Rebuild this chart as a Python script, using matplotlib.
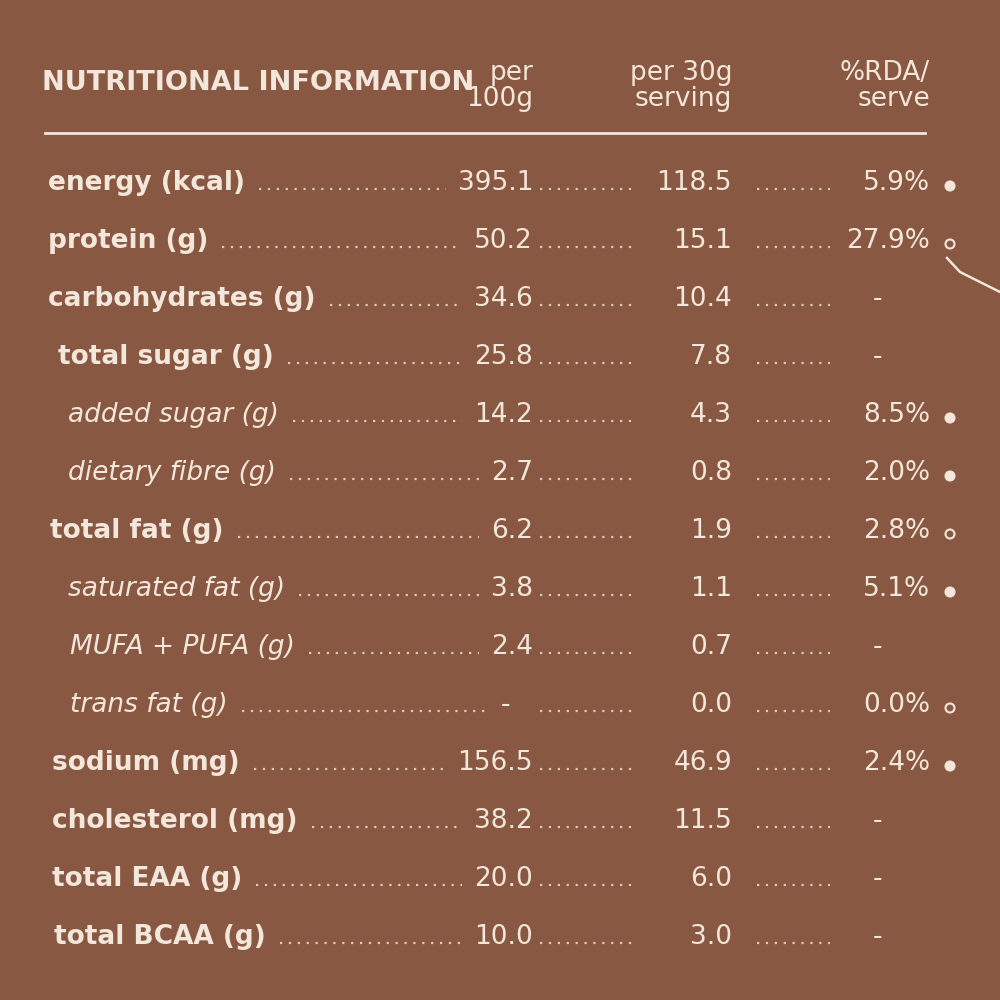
import matplotlib
matplotlib.use("Agg")
import matplotlib.pyplot as plt
from matplotlib.patches import Circle

labels = ["energy (kcal)", "protein (g)", "carbohydrates (g)", "total sugar (g)", "added sugar (g)",
          "dietary fibre (g)", "total fat (g)", "saturated fat (g)", "MUFA + PUFA (g)", "trans fat (g)",
          "sodium (mg)", "cholesterol (mg)", "total EAA (g)", "total BCAA (g)"]
per100 = ["395.1", "50.2", "34.6", "25.8", "14.2", "2.7", "6.2", "3.8", "2.4", "-", "156.5", "38.2", "20.0", "10.0"]
per30 = ["118.5", "15.1", "10.4", "7.8", "4.3", "0.8", "1.9", "1.1", "0.7", "0.0", "46.9", "11.5", "6.0", "3.0"]
rda = ["5.9%", "27.9%", "-", "-", "8.5%", "2.0%", "2.8%", "5.1%", "-", "0.0%", "2.4%", "-", "-", "-"]
marks = ["f", "h", "", "", "f", "f", "h", "f", "", "h", "f", "", "", ""]
indent = [48, 48, 48, 58, 68, 68, 50, 68, 70, 70, 52, 52, 52, 54]
italic = [False, False, False, False, True, True, False, True, True, True, False, False, False, False]

bg = "#895842"
fg = "#f3e6da"
fig = plt.figure(figsize=(10, 10), dpi=100, facecolor=bg)
ax = fig.add_axes([0, 0, 1, 1])
ax.set_xlim(0, 1000); ax.set_ylim(1000, 0); ax.axis("off")
ax.set_facecolor(bg)

fs = 19
ax.text(42, 83, "NUTRITIONAL INFORMATION", color=fg, fontsize=19.5, fontweight="bold",
        va="center", ha="left", family="Liberation Sans Narrow")
for x, t in [(533, "per\n100g"), (732, "per 30g\nserving"), (930, "%RDA/\nserve")]:
    ax.text(x, 86, t, color=fg, fontsize=fs, ha="right", va="center", linespacing=1.0)
ax.plot([45, 925], [133, 133], color=fg, lw=2)

ys = [183 + 58.0 * i for i in range(len(labels))]
fig.canvas.draw()
r = fig.canvas.get_renderer()
inv = ax.transData.inverted()
def right_px(t):
    bb = t.get_window_extent(r)
    return inv.transform((bb.x1, bb.y0))[0], inv.transform((bb.x0, bb.y0))[0]

for i, y in enumerate(ys):
    lt = ax.text(indent[i], y, labels[i], color=fg, fontsize=fs, fontweight="bold" if not italic[i] else "normal",
                 style="italic" if italic[i] else "normal", ha="left", va="center")
    a = ax.text(505 if per100[i] == "-" else 533, y, per100[i], color=fg, fontsize=fs,
                ha="center" if per100[i] == "-" else "right", va="center")
    b = ax.text(732, y, per30[i], color=fg, fontsize=fs, ha="right", va="center")
    c = ax.text(878 if rda[i] == "-" else 930, y, rda[i], color=fg, fontsize=fs,
                ha="center" if rda[i] == "-" else "right", va="center")
    lx = right_px(lt)[0]; ax_ = right_px(a)[1]; bx = right_px(b)[1]; cx = right_px(c)[1]
    for x0, x1 in [(lx + 14, min(ax_ - 12, 485)), (540, min(bx - 15, 635)), (757, min(cx - 12, 830))]:
        if x1 > x0:
            ax.plot([x0, x1], [y + 6, y + 6], color=fg, lw=1.6, ls=(0, (1, 3)), alpha=0.8)
    if marks[i]:
        ax.add_patch(Circle((950, y + 3), 4.5, facecolor=fg if marks[i] == "f" else "none",
                            edgecolor=fg, lw=1.5))

ax.plot([947, 960, 980, 1000], [258, 272, 282, 292], color=fg, lw=1.8)
fig.savefig("out.png", dpi=100, facecolor=bg)
